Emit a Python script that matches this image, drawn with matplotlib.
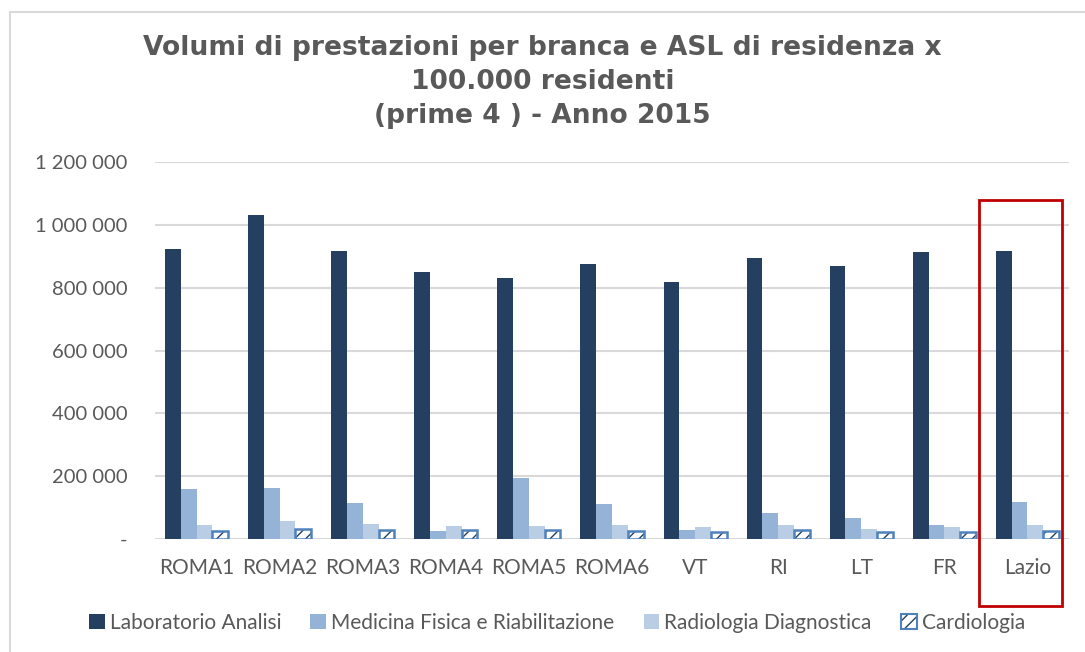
import matplotlib
matplotlib.use("Agg")
import matplotlib.pyplot as plt
import numpy as np
from matplotlib.patches import Rectangle, Patch
from matplotlib.ticker import FuncFormatter
import matplotlib.transforms as mtrans

categories = ["ROMA1", "ROMA2", "ROMA3", "ROMA4", "ROMA5", "ROMA6", "VT", "RI", "LT", "FR", "Lazio"]
laboratorio = [922000, 1030000, 917000, 850000, 831000, 876000, 817000, 894000, 868000, 914000, 916000]
medicina = [159000, 163000, 116000, 25000, 193000, 110000, 30000, 83000, 66000, 44000, 117000]
radiologia = [46000, 56000, 49000, 42000, 42000, 43000, 39000, 43000, 31000, 38000, 45000]
cardiologia = [27000, 33000, 29000, 28000, 29000, 26000, 21000, 30000, 23000, 23000, 27000]
series_names = ["Laboratorio Analisi", "Medicina Fisica e Riabilitazione", "Radiologia Diagnostica", "Cardiologia"]
yticks = [0, 200000, 400000, 600000, 800000, 1000000, 1200000]
title = "Volumi di prestazioni per branca e ASL di residenza x\n100.000 residenti\n(prime 4 ) - Anno 2015"

c_dark = "#243F60"
c_med = "#95B3D7"
c_light = "#B9CDE5"
c_card_edge = "#4F81BD"
grey = "#595959"

plt.rcParams["font.family"] = ["Lato", "DejaVu Sans"]

fig = plt.figure(figsize=(10.85, 6.52), dpi=100)
ax = fig.add_axes([155/1085, 1-539/652, (1069-155)/1085, (539-162)/652])

x = np.arange(len(categories))
bw = 0.19
offs = np.array([-1.5, -0.5, 0.5, 1.5]) * bw

ax.bar(x + offs[0], laboratorio, bw, color=c_dark, zorder=3)
ax.bar(x + offs[1], medicina, bw, color=c_med, zorder=3)
ax.bar(x + offs[2], radiologia, bw, color=c_light, zorder=3)
# cardiologia: white fill with dark diagonal pattern and blue border
ax.bar(x + offs[3], cardiologia, bw, facecolor="white", edgecolor=c_dark, hatch="///",
       linewidth=0, zorder=3)
ax.bar(x + offs[3], cardiologia, bw, facecolor="none", edgecolor=c_card_edge, linewidth=1.8, zorder=4)

ax.set_xlim(-0.5, len(categories) - 0.5)
ax.set_ylim(0, 1200000)
ax.set_yticks(yticks)

def fmt(v, pos):
    if v == 0:
        return "-"
    return f"{int(v):,}".replace(",", " ")

ax.yaxis.set_major_formatter(FuncFormatter(fmt))
ax.set_xticks(x)
ax.set_xticklabels(categories)
ax.tick_params(axis="y", length=0, pad=20, labelsize=14.5, labelcolor=grey)
ax.tick_params(axis="x", length=0, pad=14, labelsize=15, labelcolor=grey)
ax.grid(axis="y", color="#D9D9D9", linewidth=1.5, zorder=0)
for s in ax.spines.values():
    s.set_visible(False)

fig.text(0.5, 1 - 35/652, title, ha="center", va="top", fontsize=19.1, fontweight="bold",
         color=grey, family=["DejaVu Sans"], linespacing=1.4)

# chart area border
fig.patches.append(Rectangle((10/1085, -0.1), 1.2, 1 - 12/652 + 0.1, transform=fig.transFigure,
                             fill=False, edgecolor="#D9D9D9", linewidth=1.5))

# red highlight box around Lazio
trans = mtrans.blended_transform_factory(ax.transData, fig.transFigure)
ax.add_patch(Rectangle((10 - 0.58, 1 - 606/652), 1.0, (606 - 200)/652, transform=trans,
                       fill=False, edgecolor="#C00000", linewidth=2, clip_on=False, zorder=5))

card_handle = (Patch(facecolor="white", edgecolor=c_dark, hatch="///", linewidth=0),
               Patch(facecolor="none", edgecolor=c_card_edge, linewidth=1.5))
handles = [Patch(facecolor=c_dark), Patch(facecolor=c_med), Patch(facecolor=c_light), card_handle]
leg = fig.legend(handles, series_names, loc="center", bbox_to_anchor=(557/1085, 1 - 623/652),
                 ncol=4, frameon=False, fontsize=15, handlelength=0.75, handleheight=0.75,
                 handletextpad=0.25, columnspacing=1.4, labelcolor=grey)

fig.savefig("out.png", dpi=100)
